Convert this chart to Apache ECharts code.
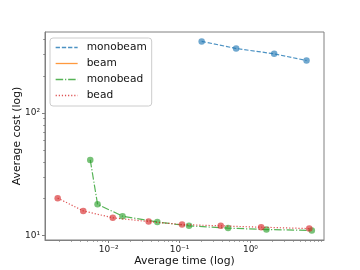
<!DOCTYPE html>
<html><head><meta charset="utf-8">
<script src="https://cdn.jsdelivr.net/npm/echarts@6/dist/echarts.min.js"></script>
<style>html,body{margin:0;padding:0;background:#fff}#c{width:360px;height:270px}</style>
</head><body><div id="c"></div>
<script>
// ---- data ----
const seriesNames = ['monobeam', 'beam', 'monobead', 'bead'];
const monobeamX = [0.205, 0.628, 2.16, 6.18];
const monobeamY = [384, 336, 304, 268];
const beamX = [];
const beamY = [];
const monobeadX = [0.0055, 0.00697, 0.0157, 0.0486, 0.136, 0.484, 1.68, 7.34];
const monobeadY = [41.4, 18.0, 14.4, 12.9, 12.0, 11.5, 11.2, 11.0];
const beadX = [0.00191, 0.00438, 0.01143, 0.0366, 0.1084, 0.381, 1.416, 6.75];
const beadY = [20.2, 15.9, 13.96, 13.0, 12.3, 12.0, 11.7, 11.4];
const xMajorTicks = [0.01, 0.1, 1];
const yMajorTicks = [10, 100];
const xTickLabels = ['10\u207B\u00B2', '10\u207B\u00B9', '10\u2070'];
const yTickLabels = ['10\u00B9', '10\u00B2'];
const xLabel = 'Average time (log)';
const yLabel = 'Average cost (log)';

// ---- helpers ----
function minorTicks(decades) {
  const out = [];
  decades.forEach(d => { for (let k = 2; k <= 9; k++) out.push(+(k * d).toPrecision(3)); });
  return out;
}
const xMinorTicks = minorTicks([0.001, 0.01, 0.1, 1]).concat([10]);
const yMinorTicks = minorTicks([1, 10, 100]);
const X_MIN = 0.001265, X_MAX = 10.9, Y_MIN = 9.2, Y_MAX = 458;

const colors = ['rgba(31,119,180,0.8)', 'rgba(255,127,14,0.8)', 'rgba(44,160,44,0.8)', 'rgba(214,39,40,0.8)'];
const solidColors = ['#4c92c3', '#ff993e', '#56b356', '#de5253'];
const dashes = [[4.3, 1.9], 'solid', [7.5, 1.9, 1.2, 1.9], [1.2, 1.9]];
const xs = [monobeamX, beamX, monobeadX, beadX];
const ys = [monobeamY, beamY, monobeadY, beadY];

const FONT = 'DejaVu Sans';
const axisColor = '#808080';
function labelFor(ticks, labels) {
  return function (v) {
    for (let i = 0; i < ticks.length; i++) {
      if (Math.abs(Math.log10(v) - Math.log10(ticks[i])) < 1e-6) return labels[i];
    }
    return '';
  };
}

const series = [];
seriesNames.forEach((n, i) => {
  const pts = xs[i].map((x, j) => [x, ys[i][j]]);
  series.push({
    name: n, type: 'line', data: pts, symbol: 'none', xAxisIndex: 0, yAxisIndex: 0,
    lineStyle: { color: colors[i], width: 1.2, type: dashes[i] },
    itemStyle: { color: colors[i] }, z: 2 + i * 2, animation: false, silent: true
  });
  series.push({
    name: n + '_pts', type: 'scatter', data: pts, symbol: 'circle', symbolSize: 6.5,
    xAxisIndex: 0, yAxisIndex: 0,
    itemStyle: { color: colors[i] }, z: 3 + i * 2, animation: false, silent: true
  });
});

const legendData = seriesNames.map((n, i) => ({
  name: n,
  itemStyle: { opacity: 0 },
  lineStyle: { color: solidColors[i], width: 1.3, type: dashes[i], opacity: 1 }
}));

const chart = echarts.init(document.getElementById('c'), null, { renderer: 'canvas' });
chart.setOption({
  animation: false,
  grid: { left: 45, right: 36, top: 32, bottom: 30, outerBoundsMode: 'none', containLabel: false,
    show: true, borderColor: axisColor, borderWidth: 1, backgroundColor: 'transparent' },
  legend: {
    data: legendData, orient: 'vertical', left: 50, top: 38,
    itemWidth: 22, itemHeight: 10, itemGap: 3,
    padding: [3, 5, 4, 5],
    borderColor: '#cccccc', borderWidth: 1, borderRadius: 3, backgroundColor: 'rgba(255,255,255,0.8)',
    textStyle: { fontFamily: FONT, fontSize: 10.6, lineHeight: 13, color: '#111', padding: [0, 0, 0, 4] }
  },
  xAxis: [
    {
      type: 'log', min: X_MIN, max: X_MAX, position: 'bottom',
      name: xLabel, nameLocation: 'middle', nameGap: 16, nameMoveOverlap: false,
      nameTextStyle: { fontFamily: FONT, fontSize: 10.8, color: '#111' },
      axisLine: { show: true, lineStyle: { color: axisColor, width: 1 } },
      axisTick: { show: true, length: 3, lineStyle: { color: axisColor }, customValues: xMajorTicks },
      axisLabel: { show: true, margin: 5, customValues: xMajorTicks, formatter: labelFor(xMajorTicks, xTickLabels),
        fontFamily: FONT, fontSize: 9, color: '#222' },
      splitLine: { show: false }, minorTick: { show: false }
    },
    {
      type: 'log', min: X_MIN, max: X_MAX, position: 'bottom',
      axisLine: { show: false },
      axisTick: { show: true, length: 1.7, lineStyle: { color: axisColor }, customValues: xMinorTicks },
      axisLabel: { show: false }, splitLine: { show: false }
    }
  ],
  yAxis: [
    {
      type: 'log', min: Y_MIN, max: Y_MAX, position: 'left',
      name: yLabel, nameLocation: 'middle', nameGap: 22, nameMoveOverlap: false,
      nameTextStyle: { fontFamily: FONT, fontSize: 10.8, color: '#111' },
      axisLine: { show: true, lineStyle: { color: axisColor, width: 1 } },
      axisTick: { show: true, length: 3, lineStyle: { color: axisColor }, customValues: yMajorTicks },
      axisLabel: { show: true, margin: 5, customValues: yMajorTicks, formatter: labelFor(yMajorTicks, yTickLabels),
        fontFamily: FONT, fontSize: 9, color: '#222' },
      splitLine: { show: false }
    },
    {
      type: 'log', min: Y_MIN, max: Y_MAX, position: 'left',
      axisLine: { show: false },
      axisTick: { show: true, length: 1.7, lineStyle: { color: axisColor }, customValues: yMinorTicks },
      axisLabel: { show: false }, splitLine: { show: false }
    }
  ],
  series: series
});
</script></body></html>
